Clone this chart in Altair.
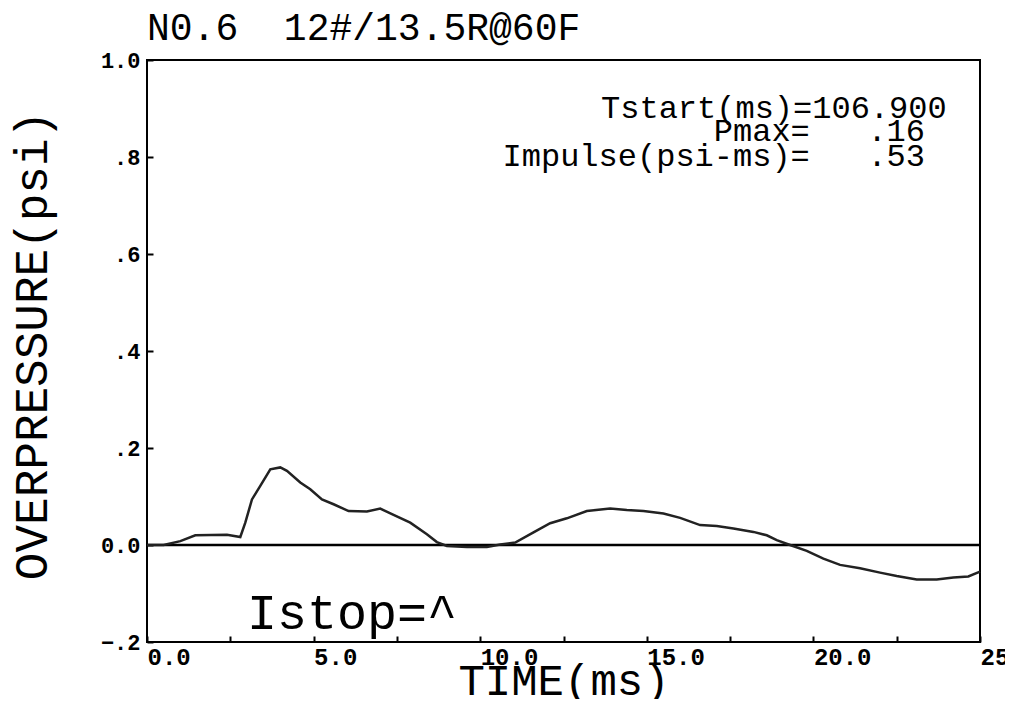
import altair as alt
import pandas as pd

# Pressure trace
time_ms = [0.0, 0.5, 1.0, 1.45, 2.4, 2.8, 2.95, 3.15, 3.4, 3.7,
           4.0, 4.2, 4.6, 4.9, 5.25, 5.6, 6.05, 6.6, 7.0, 7.4,
           7.9, 8.4, 8.7, 9.0, 9.6, 10.2, 10.6, 11.05, 11.6, 12.1,
           12.6, 13.2, 13.9, 14.4, 14.9, 15.5, 16.0, 16.6, 17.1, 17.6,
           18.2, 18.6, 18.9, 19.3, 19.8, 20.3, 20.8, 21.4, 22.0, 22.5,
           23.1, 23.7, 24.2, 24.65, 25.0]
pressure = [0.0, 0.0, 0.008, 0.020, 0.021, 0.0165, 0.046, 0.094, 0.122, 0.156,
            0.160, 0.153, 0.129, 0.115, 0.094, 0.084, 0.070, 0.069, 0.075, 0.062,
            0.046, 0.022, 0.006, -0.002, -0.004, -0.004, 0.001, 0.005, 0.026, 0.045,
            0.055, 0.070, 0.075, 0.072, 0.070, 0.065, 0.056, 0.041, 0.039, 0.034,
            0.027, 0.020, 0.010, 0.0, -0.012, -0.028, -0.041, -0.048, -0.057, -0.064,
            -0.071, -0.071, -0.067, -0.065, -0.055]

x_ticks = [0.0, 2.5, 5.0, 7.5, 10.0, 12.5, 15.0, 17.5, 20.0, 22.5, 25.0]
y_ticks = [-0.2, 0.0, 0.2, 0.4, 0.6, 0.8, 1.0]

ann_text = ["Tstart(ms)=106.900", "Pmax=\u00a0\u00a0\u00a0.16", "Impulse(psi-ms)=\u00a0\u00a0\u00a0.53"]
ann_t = [24.0, 23.35, 23.35]
ann_p = [0.902, 0.853, 0.803]

istop_text = ["Istop=^"]
istop_t = [3.0]
istop_p = [-0.143]

title_text = "N0.6\u00a0\u00a012#/13.5R@60F"

FONT = "Liberation Mono"

trace = pd.DataFrame({"t": time_ms, "p": pressure})
ann = pd.DataFrame({"t": ann_t, "p": ann_p, "label": ann_text})
istop = pd.DataFrame({"t": istop_t, "p": istop_p, "label": istop_text})
zero = pd.DataFrame({"p": [0.0]})

xscale = alt.Scale(domain=[0, 25], nice=False, zero=False)
yscale = alt.Scale(domain=[-0.2, 1.0], nice=False, zero=False)

xaxis = alt.Axis(
    values=x_ticks, grid=False, domain=False, offset=-6,
    tickSize=6, tickWidth=2, tickColor="black",
    labelExpr="datum.value % 5 === 0 ? format(datum.value, '.1f') : ''",
    labelAlign="left", labelBaseline="top", labelPadding=3,
    labelFont=FONT, labelFontWeight="bold", labelFontSize=24, labelColor="black",
    labelFlush=False, labelOverlap=False,
    title="TIME(ms)", titleFont=FONT, titleFontSize=44, titleFontWeight="normal",
    titleColor="black", titleBaseline="alphabetic", titleY=58,
)
yaxis = alt.Axis(
    values=y_ticks, grid=False, domain=False, offset=-6,
    tickSize=6, tickWidth=2, tickColor="black",
    labelExpr="datum.value == 0 ? '0.0' : (datum.value == 1 ? '1.0' : replace(format(datum.value, '.1f'), '0.', '.'))",
    labelAlign="right", labelBaseline="middle", labelPadding=7,
    labelFont=FONT, labelFontWeight="bold", labelFontSize=22, labelColor="black",
    labelFlush=False, labelOverlap=False,
    title="OVERPRESSURE(psi)", titleFont=FONT, titleFontSize=46, titleFontWeight="normal",
    titleColor="black", titleBaseline="alphabetic", titleX=-107, titleY=285, titleAngle=270,
    titleAlign="center",
)

zero_rule = alt.Chart(zero).mark_rule(color="black", strokeWidth=2.5).encode(
    y=alt.Y("p:Q", scale=yscale, axis=yaxis)
)

line = alt.Chart(trace).mark_line(color="#222222", strokeWidth=2.5).encode(
    x=alt.X("t:Q", scale=xscale, axis=xaxis),
    y=alt.Y("p:Q", scale=yscale, axis=yaxis),
)

ann_marks = alt.Chart(ann).mark_text(
    font=FONT, fontSize=32, align="right", baseline="middle", color="black"
).encode(
    x=alt.X("t:Q", scale=xscale),
    y=alt.Y("p:Q", scale=yscale),
    text="label:N",
)

istop_mark = alt.Chart(istop).mark_text(
    font=FONT, fontSize=50, align="left", baseline="middle", color="black"
).encode(
    x=alt.X("t:Q", scale=xscale),
    y=alt.Y("p:Q", scale=yscale),
    text="label:N",
)

chart = alt.layer(zero_rule, line, ann_marks, istop_mark).properties(
    width=833, height=582,
    autosize=alt.AutoSizeParams(type="none"),
    padding={"left": 139, "top": 52, "right": 25, "bottom": 57},
    background="white",
    title=alt.TitleParams(
        title_text, anchor="start", frame="group", font=FONT, fontSize=38,
        fontWeight="normal", color="black", offset=1,
    ),
).configure_view(stroke="black", strokeWidth=2)

chart.save("out.html", embed_options={"renderer": "svg", "actions": False})
